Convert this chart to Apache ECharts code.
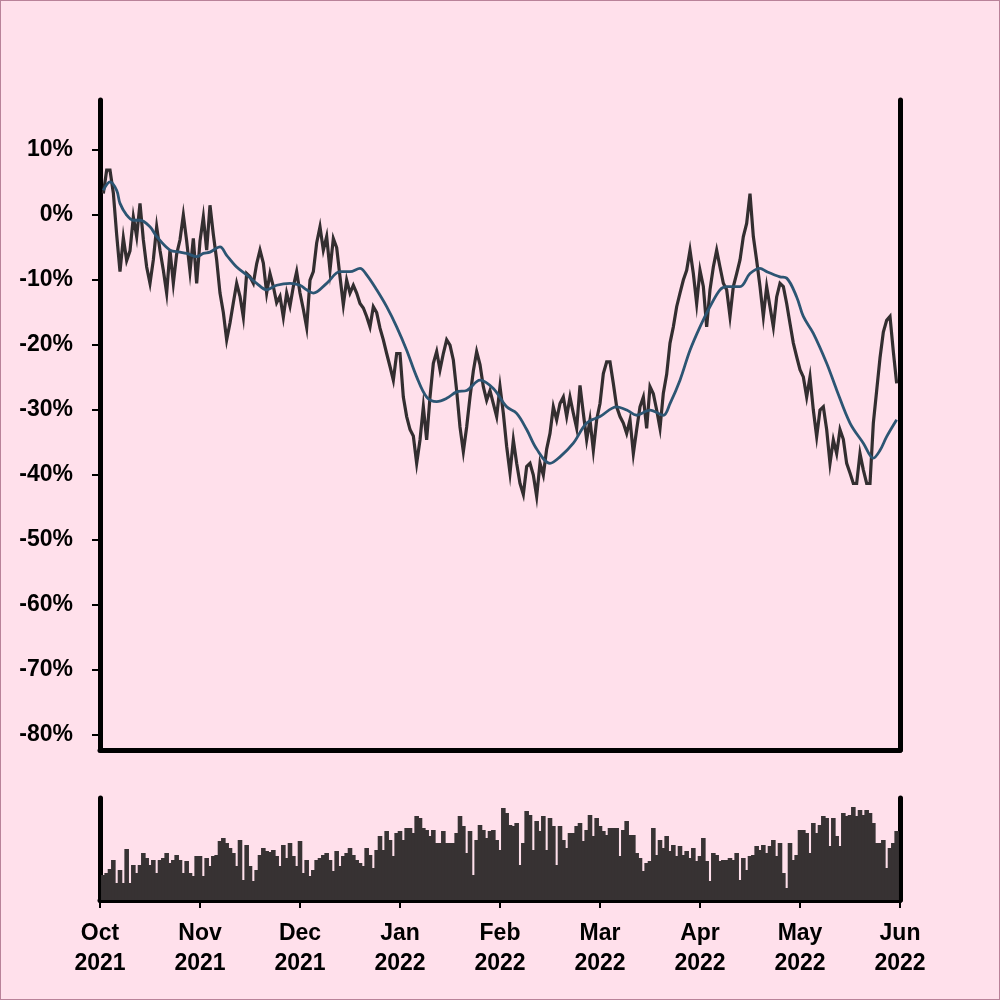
<!DOCTYPE html>
<html>
<head>
<meta charset="utf-8">
<script src="https://cdn.jsdelivr.net/npm/echarts@6/dist/echarts.min.js"></script>
<style>
html,body{margin:0;padding:0;background:#ffe0eb;}
#chart{position:absolute;left:0;top:0;width:1000px;height:1000px;}
#frame{position:absolute;left:0;top:0;width:1000px;height:1000px;box-sizing:border-box;border:1px solid #b98299;pointer-events:none;}
</style>
</head>
<body>
<div id="chart"></div>
<div id="frame"></div>
<script>
// x tick labels (one per 30 observations)
const monthLabels = ['Oct\n2021','Nov\n2021','Dec\n2021','Jan\n2022','Feb\n2022','Mar\n2022','Apr\n2022','May\n2022','Jun\n2022'];
const yTicks = [-80,-70,-60,-50,-40,-30,-20,-10,0,10];

// daily return (%), observations 1..239
const price = [
 3.3, 6.9, 6.9, 3.4, -3, -8.7, -3.5, -7, -5.5, -0.3,
 -3.3, 1.8, -3.8, -8, -10.5, -6.9, -1.8, -5.4, -8.5, -12,
 -5.4, -10.5, -6, -3.8, 0, -4, -8.7, -3.6, -10.5, -4,
 -0.3, -5.4, 1.5, -3, -6.9, -12, -15, -19.2, -16.6, -13.5,
 -10.5, -12.5, -15.7, -9, -9.5, -10.5, -7.5, -5.4, -7.4, -12,
 -9, -11, -13.5, -12.5, -15.7, -12, -14, -11, -8.7, -12,
 -14.5, -17.3, -10, -8.7, -4.3, -1.8, -5.4, -3.3, -8.5, -3.6,
 -5, -9.5, -13.8, -10, -12, -10.8, -12, -13.6, -14.3, -15.6,
 -17.2, -14.1, -15, -17.4, -19.2, -21.3, -23.3, -25.4, -21.3, -21.3,
 -28, -31, -33, -34, -38.2, -34.6, -29.5, -34.6, -28, -22.8,
 -21, -23.8, -21.3, -19.2, -20, -22.3, -27, -32.6, -36.4, -32.6,
 -28, -24, -21, -23, -26.4, -28.5, -27, -29, -31, -26.4,
 -30.5, -35.6, -39.7, -34.6, -38.2, -41.3, -43, -38.7, -38.2, -40,
 -43.3, -38.2, -40, -36, -33.6, -29.5, -31.5, -29, -28, -31,
 -28, -30.5, -32.8, -26.2, -30.5, -34.6, -31.5, -36.2, -31.5, -29,
 -24.4, -22.6, -22.6, -25.9, -29.5, -31, -32, -33.6, -31.5, -36.7,
 -33, -29.5, -28, -32.8, -26.4, -27.5, -30, -32.8, -27.4, -24.5,
 -19.7, -17.2, -14.1, -12, -10, -8.5, -5.4, -9, -13.6, -8.5,
 -11, -17.2, -11.5, -8, -5.4, -8, -10.5, -11.5, -15.6, -11,
 -9, -6.9, -3.3, -1.3, 3.3, -3.3, -7, -11, -15.6, -11,
 -14.1, -17.2, -12.6, -10.5, -11, -13.6, -16.7, -19.7, -21.8, -23.8,
 -24.9, -28, -24.9, -30, -34.1, -30, -29.5, -33, -38.2, -34.6,
 -36.7, -33, -34.5, -38.2, -39.7, -41.3, -41.3, -36.7, -39.2, -41.3,
 -41.3, -32, -27, -22, -18, -16.2, -15.6, -21, -25.9
];

// moving average, read at selected observations
const maIdx = [1,3,5,6,8,10,12,15,17,21,24,26,29,31,33,36,38,41,44,47,50,53,57,60,62,64,68,72,75,78,80,83,86,89,92,95,98,101,104,107,110,114,118,122,125,128,131,135,138,142,146,150,155,158,161,165,169,171,174,177,180,183,186,188,192,195,198,200,204,206,209,211,214,218,221,225,229,232,234,236,239];
const maVal = [3.8,5.1,3.8,1.8,0,-0.8,-0.8,-1.8,-3.3,-5.4,-5.7,-5.9,-6.4,-5.9,-5.7,-4.9,-6.2,-8,-9.2,-10.5,-11.5,-10.8,-10.5,-10.8,-11.5,-12,-10.5,-8.7,-8.7,-8.2,-9.2,-11.5,-14.1,-17.2,-20.8,-24.9,-28,-28.7,-28.2,-27.2,-27,-25.4,-26.7,-29.5,-30.5,-33,-36,-38.2,-37.2,-35.1,-32,-31,-29.5,-30,-30.8,-30,-30.8,-29,-25.4,-20.8,-17.2,-14.1,-11.5,-11,-11,-9,-8.2,-8.7,-9.5,-9.7,-12.6,-15.6,-18.2,-22.8,-26.9,-32,-35.1,-37.4,-36.2,-34.1,-31.5];

// volume, observations 1..239
const volume = [
 25, 27, 31, 40, 17, 30, 17, 51, 17, 35,
 27, 35, 47, 42, 35, 40, 27, 40, 42, 47,
 37, 40, 45, 40, 27, 39, 27, 24, 44, 44,
 24, 42, 34, 44, 45, 59, 62, 57, 52, 47,
 34, 60, 20, 55, 34, 19, 30, 45, 52, 49,
 48, 50, 44, 34, 55, 42, 57, 44, 34, 59,
 27, 40, 24, 30, 40, 42, 45, 47, 40, 29,
 49, 34, 44, 47, 52, 45, 40, 37, 34, 52,
 45, 32, 50, 64, 50, 69, 60, 44, 67, 69,
 60, 72, 72, 67, 84, 82, 72, 70, 64, 70,
 57, 57, 69, 57, 57, 57, 67, 84, 74, 47,
 69, 25, 60, 75, 70, 62, 69, 70, 60, 50,
 92, 87, 75, 74, 77, 35, 57, 89, 85, 50,
 79, 69, 84, 50, 82, 74, 35, 74, 60, 52,
 67, 67, 74, 77, 59, 70, 85, 64, 82, 74,
 69, 65, 72, 72, 72, 44, 70, 79, 65, 65,
 47, 42, 29, 37, 39, 72, 45, 60, 52, 64,
 49, 55, 44, 54, 45, 49, 42, 52, 39, 44,
 62, 39, 19, 47, 45, 39, 40, 40, 42, 40,
 47, 20, 42, 30, 44, 45, 54, 50, 55, 47,
 54, 60, 44, 57, 27, 12, 57, 40, 45, 70,
 70, 67, 47, 77, 67, 75, 84, 82, 54, 82,
 64, 54, 87, 84, 85, 93, 84, 90, 85, 90,
 87, 77, 57, 57, 60, 32, 52, 57, 69
];

const FONT = "'Liberation Sans', Arial, Helvetica, sans-serif";
function axisLine(){ return {show:true, onZero:false, lineStyle:{color:'#000', width:5, cap:'round'}}; }

const chart = echarts.init(document.getElementById('chart'), null, {renderer:'canvas'});
chart.setOption({
  backgroundColor:'#ffe0eb',
  animation:false,
  grid:[
    {left:100, top:100, width:800, height:650},
    {left:100, top:798, width:800, height:102}
  ],
  xAxis:[
    {type:'value', gridIndex:0, min:0, max:240, interval:30, axisLine:axisLine(),
     axisTick:{show:false}, axisLabel:{show:false}, splitLine:{show:false}},
    {type:'value', gridIndex:1, min:0, max:240, interval:30, axisLine:axisLine(),
     axisTick:{show:true, length:8, lineStyle:{color:'#000', width:2}},
     axisLabel:{show:true, margin:19, color:'#000', fontFamily:FONT, fontWeight:'bold', fontSize:23, lineHeight:30,
       formatter:function(v){return monthLabels[Math.round(v/30)] || '';}},
     splitLine:{show:false}}
  ],
  yAxis:[
    {type:'value', gridIndex:0, min:-82.3, max:17.7, position:'left', axisLine:axisLine(),
     axisTick:{show:true, length:8, customValues:yTicks, lineStyle:{color:'#000', width:2}},
     axisLabel:{show:true, margin:27, customValues:yTicks, color:'#000', fontFamily:FONT, fontWeight:'bold', fontSize:23,
       formatter:function(v){return Math.round(v)+'%';}},
     splitLine:{show:false}},
    {type:'value', gridIndex:0, min:-82.3, max:17.7, position:'right', axisLine:axisLine(),
     axisTick:{show:false}, axisLabel:{show:false}, splitLine:{show:false}},
    {type:'value', gridIndex:1, min:0, max:102, position:'left', axisLine:axisLine(),
     axisTick:{show:false}, axisLabel:{show:false}, splitLine:{show:false}},
    {type:'value', gridIndex:1, min:0, max:102, position:'right', axisLine:axisLine(),
     axisTick:{show:false}, axisLabel:{show:false}, splitLine:{show:false}}
  ],
  series:[
    {type:'line', xAxisIndex:0, yAxisIndex:0, showSymbol:false, symbol:'none',
     lineStyle:{color:'#332e30', width:3.2, join:'miter'}, z:3,
     data:price.map(function(v,i){return [i+1, v];})},
    {type:'line', xAxisIndex:0, yAxisIndex:0, smooth:0.35, showSymbol:false, symbol:'none',
     lineStyle:{color:'#2c5573', width:2.8}, z:4,
     data:maIdx.map(function(x,k){return [x, maVal[k]];})},
    {type:'bar', xAxisIndex:1, yAxisIndex:2, barWidth:4.6, barMaxWidth:6,
     itemStyle:{color:'#373233', borderWidth:0}, z:2,
     data:volume.map(function(v,i){return [i+1, v];})}
  ]
});
</script>
</body>
</html>
